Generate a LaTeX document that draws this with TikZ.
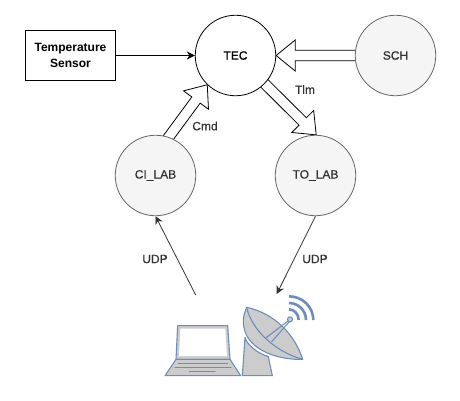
\documentclass[tikz,border=0pt]{standalone}
\usepackage{fontspec}
\setmainfont{Liberation Sans}
\newfontfamily\semifont[FakeBold=0.4]{Liberation Sans}
\newfontfamily\strongfont[FakeBold=1.1]{Liberation Sans}
\usetikzlibrary{arrows.meta,calc}
\pgfdeclarelayer{back}
\pgfsetlayers{back,main}
\definecolor{nodefill}{HTML}{F5F5F5}
\definecolor{nodeline}{HTML}{666666}
\definecolor{nodetext}{HTML}{333333}
\definecolor{iconline}{HTML}{6C8EBF}
\definecolor{iconfill}{HTML}{CCCCCC}
\tikzset{
  every node/.style={font=\fontsize{12}{14.5}\selectfont\semifont},
  plainnode/.style={circle,draw=black,fill=white,line width=.8pt,minimum size=80.5pt,inner sep=0pt,align=center},
  grayedge/.style={circle,draw=nodeline,fill=nodefill,text=nodetext,line width=.8pt,minimum size=80.5pt,inner sep=0pt,align=center},
  strongtext/.style={font=\fontsize{12}{14.5}\selectfont\strongfont},
  sensorbox/.style={rectangle,draw=black,fill=white,line width=.8pt,minimum width=90pt,minimum height=50pt,inner sep=0pt,align=center,font=\fontsize{12}{15.5}\selectfont\bfseries},
  link/.style={draw=black,line width=.8pt,-{Stealth[length=8pt,width=8pt]}},
  graylink/.style={draw=nodetext,line width=.8pt,-{Stealth[length=8pt,width=8pt]}},
  hollow/.style={draw=black,fill=white,line width=.8pt,line join=miter},
  label/.style={text=nodetext,inner sep=0pt},
  icon/.style={draw=iconline,fill=iconfill,line width=1.1pt,line join=round},
  iconstroke/.style={draw=iconline,line width=1.1pt,line cap=round},
  wave/.style={draw=iconline,line width=2.6pt}
}
% hollow block arrow from coordinate #1 to tip #2
\newcommand{\blockarrow}[2]{%
  \coordinate (hb) at ($(#2)!19pt!(#1)$);
  \coordinate (tl) at ($(#1)!-4pt!(#2)$);
  \draw[hollow]
    (#2) -- ($(hb)!15.5pt!90:(#2)$) -- ($(hb)!5.2pt!90:(#2)$)
    -- ($(tl)!5.2pt!90:(#2)$) -- ($(tl)!5.2pt!-90:(#2)$)
    -- ($(hb)!5.2pt!-90:(#2)$) -- ($(hb)!15.5pt!-90:(#2)$) -- cycle;
}
\begin{document}
\begin{tikzpicture}[x=1pt,y=-1pt]
\useasboundingbox (0,0) rectangle (460,400);
\node[sensorbox] (sensor) at (70.5,55.5) {Temperature\\Sensor};
\node[plainnode,strongtext] (tec) at (235.5,55.5) {TEC};
\node[grayedge,strongtext] (sch) at (395.5,55.5) {SCH};
\node[grayedge] (ci) at (155.5,175.5) {CI\_LAB};
\node[grayedge] (to) at (315.5,175.5) {TO\_LAB};
\coordinate (cifree) at (195.7,295);
\coordinate (tofree) at (276.7,294);

\begin{pgfonlayer}{back}
  \blockarrow{sch.west}{tec.east}
  \blockarrow{ci.71}{tec.226}
  \blockarrow{tec.-44}{to.89}
\end{pgfonlayer}

\draw[link] (sensor.east) -- (tec.west);
\draw[graylink] (cifree) -- (ci.south);
\draw[graylink] (to.south) -- (tofree);

\node[label] (udpa) at (155,259) {UDP};
\node[label] (udpb) at (315,259) {UDP};
\node[label] (cmd) at (205,126) {Cmd};
\node[label] (tlm) at (305,89.5) {Tlm};

\begin{scope}[shift={(150,280)},scale=1/3]
  % laptop
  \draw[icon] (83,137) -- (233,137) -- (240,238) -- (78,238) -- cycle;
  \fill[white] (91,146) -- (226,146) -- (231,228) -- (87,228) -- cycle;
  \draw[icon] (78,238) -- (240,238) -- (272,287) -- (45,287) -- cycle;
  \draw[iconstroke] (85,250) -- (233,250);
  \draw[iconstroke] (75,263) -- (243,263);
  \draw[iconstroke] (118,275) -- (195,275);
  % dish stand
  \draw[icon] (277,287) -- (285,172) .. controls (290,192) and (318,218) .. (355,230) -- (367,287) -- cycle;
  % dish
  \draw[icon] (290,82) .. controls (375,100) and (435,165) .. (458,238)
     .. controls (390,240) and (310,215) .. (287,160) .. controls (275,130) and (280,105) .. (290,82) -- cycle;
  \draw[iconstroke] (290,82) .. controls (305,150) and (375,215) .. (458,238);
  % feed
  \draw[iconstroke] (347,174) -- (414,123);
  \draw[iconstroke] (365,185) -- (418,125);
  \draw[icon,fill=iconfill] (420,118) circle (7.5);
  % waves
  \draw[wave] (417,49) arc[start angle=90,end angle=0,x radius=73,y radius=-71];
  \draw[wave] (417,69) arc[start angle=90,end angle=0,x radius=51,y radius=-51];
  \draw[wave] (417,88) arc[start angle=90,end angle=0,x radius=29,y radius=-32];
\end{scope}
\end{tikzpicture}
\end{document}
